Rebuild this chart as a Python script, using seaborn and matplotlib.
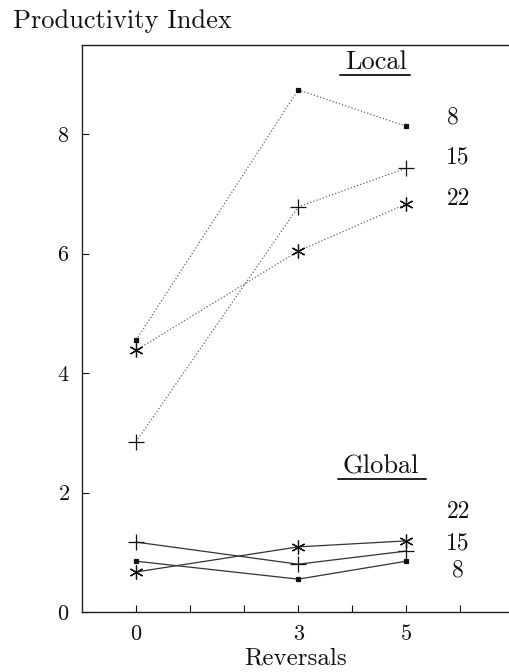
import numpy as np
import pandas as pd
import matplotlib
matplotlib.use("Agg")
import matplotlib.pyplot as plt
import seaborn as sns

# Data: productivity index vs. number of reversals
reversals = [0, 3, 5]
local_8 = [4.55, 8.74, 8.13]
local_15 = [2.85, 6.78, 7.43]
local_22 = [4.38, 6.04, 6.83]
global_8 = [0.85, 0.55, 0.85]
global_15 = [1.17, 0.80, 1.02]
global_22 = [0.67, 1.09, 1.19]

series = [
    ("Local", "8", local_8),
    ("Local", "15", local_15),
    ("Local", "22", local_22),
    ("Global", "8", global_8),
    ("Global", "15", global_15),
    ("Global", "22", global_22),
]
rows = []
for scope, size, vals in series:
    for r, v in zip(reversals, vals):
        rows.append({"scope": scope, "size": size, "Reversals": r, "index": v})
df = pd.DataFrame(rows)

sns.set_style("ticks")
plt.rcParams["font.family"] = ["cmr10"]
plt.rcParams["axes.formatter.use_mathtext"] = True
plt.rcParams["mathtext.fontset"] = "cm"

WORD = 19
DIGIT = 16
INK = "#111111"

fig = plt.figure(figsize=(5.09, 6.72), dpi=100)
ax = fig.add_axes([82 / 509, 60 / 672, 1 - 82 / 509, (612 - 45) / 672])

markers = {"8": "s", "15": "+", "22": (6, 2, 0)}
msizes = {"8": 2.5, "15": 12, "22": 10}
for scope, size, vals in series:
    sub = df[(df.scope == scope) & (df["size"] == size)]
    ls = ":" if scope == "Local" else "-"
    lc = "#666666" if scope == "Local" else "#333333"
    sns.lineplot(data=sub, x="Reversals", y="index", ax=ax, color=lc,
                 linestyle=ls, linewidth=0.9, marker=markers[size],
                 markersize=msizes[size], markeredgewidth=0.9,
                 markeredgecolor=INK, markerfacecolor=INK,
                 legend=False)

ax.set_xlim(-1.0, 6.9)
ax.set_ylim(0, 9.49)
ax.set_xticks(range(0, 7))
ax.set_xticklabels(["0", "", "", "3", "", "5", ""])
ax.set_yticks([0, 2, 4, 6, 8])
ax.tick_params(axis="both", direction="in", length=5, width=0.8,
               labelsize=DIGIT, colors=INK)
ax.tick_params(axis="x", pad=9)
ax.tick_params(axis="y", pad=9)
for side in ["left", "bottom", "top"]:
    ax.spines[side].set_visible(True)
    ax.spines[side].set_linewidth(1.0)
    ax.spines[side].set_color("#222222")
ax.spines["right"].set_visible(False)

ax.set_ylabel("")
ax.set_xlabel("Reversals", fontsize=18, color=INK, labelpad=0)
ax.xaxis.set_label_coords(0.5, -0.063)
ax.xaxis.label.set_va("top")

fig.text(13 / 509, 1 - 21 / 672, "Productivity Index", fontsize=WORD,
         va="center", ha="left", color=INK)

# group headings with underline
ax.text(4.45, 9.2, "Local", fontsize=WORD, ha="center", va="center", color=INK)
ax.plot([3.78, 5.07], [8.98, 8.98], color="#222222", lw=1.4)
ax.text(4.53, 2.43, "Global", fontsize=WORD, ha="center", va="center", color=INK)
ax.plot([3.74, 5.37], [2.23, 2.23], color="#222222", lw=1.4)

# series labels
for xx, yy, t in [(5.87, 8.28, "8"), (5.96, 7.6, "15"), (5.96, 6.91, "22"),
                  (5.96, 1.67, "22"), (5.96, 1.14, "15"), (5.96, 0.69, "8")]:
    ax.text(xx, yy, t, fontsize=DIGIT + 1, ha="center", va="center", color=INK)

fig.savefig("out.png", dpi=100)
